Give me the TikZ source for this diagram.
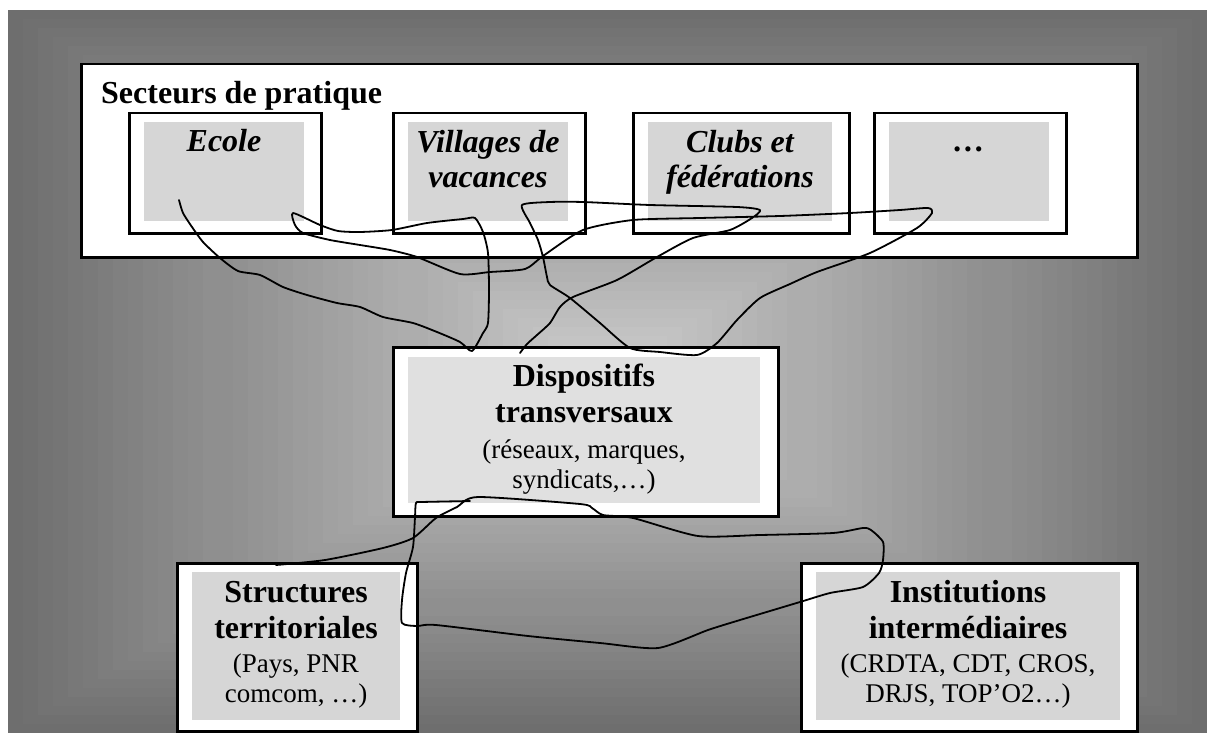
\documentclass[tikz,border=0pt]{standalone}
\usepackage{fontspec}
\setmainfont{Liberation Serif}
\begin{document}
\begin{tikzpicture}[x=1pt, y=-1pt,
    cadre/.style={draw=black, line width=2.5pt, fill=white, inner sep=0pt, anchor=north west},
    fond/.style={fill=black!16, inner sep=0pt, anchor=north west},
    titre/.style={font=\fontsize{32}{36}\selectfont\bfseries, align=center, anchor=base, inner sep=0pt},
    secteur/.style={font=\fontsize{32}{35}\selectfont\bfseries\itshape, align=center, anchor=base, inner sep=0pt},
    detail/.style={font=\fontsize{27}{30}\selectfont, align=center, anchor=base, inner sep=0pt},
    trait/.style={line width=1.8pt, line join=round, line cap=round}]

    % Fond en degrade
    \useasboundingbox (0,0) rectangle (1207,733);
    \foreach \i in {0,...,39} {
        \pgfmathsetmacro\t{\i/40}
        \pgfmathtruncatemacro\c{57-37*\t}
        \fill[black!\c] (8+600*\t, 10+362*\t) rectangle (1207-600*\t, 733-361*\t);
    }

    % Secteurs de pratique
    \node[cadre, minimum width=1056, minimum height=193] (secteurs) at (80,63) {};
    \node[titre, anchor=base west] (secteurs-txt) at (101,104) {Secteurs de pratique};
    \foreach \nom/\x/\w/\y/\txt in {ecole/128/192/152/Ecole, villages/392/192/187/{Villages de\\vacances},
        clubs/632/216/187/{Clubs et\\fédérations}, autres/873/192/152/…} {
        \node[cadre, minimum width=\w, minimum height=120] (\nom) at (\x,112) {};
        \node[fond, minimum width=\w-32, minimum height=99] (\nom-fond) at (\x+16,122) {};
        \node[secteur] (\nom-txt) at (\x+\w/2,\y) {\txt};
    }

    % Dispositifs transversaux
    \node[cadre, minimum width=385, minimum height=169] (dispositifs) at (392,346) {};
    \node[fond, fill=black!12, minimum width=352, minimum height=146] (dispositifs-fond) at (408,357) {};
    \node[titre] (dispositifs-txt) at (584,422) {Dispositifs\\transversaux};
    \node[detail] (dispositifs-det) at (584,488) {(réseaux, marques,\\syndicats,…)};

    % Structures et institutions
    \node[cadre, minimum width=240, minimum height=168] (structures) at (176,562) {};
    \node[fond, minimum width=208, minimum height=148] (structures-fond) at (192,572) {};
    \node[titre] (structures-txt) at (296,638) {Structures\\territoriales};
    \node[detail] (structures-det) at (296,702) {(Pays, PNR\\comcom, …)};

    \node[cadre, minimum width=336, minimum height=168] (institutions) at (800,562) {};
    \node[fond, minimum width=304, minimum height=148] (institutions-fond) at (816,572) {};
    \node[titre] (institutions-txt) at (968,638) {Institutions\\intermédiaires};
    \node[detail] (institutions-det) at (968,702) {(CRDTA, CDT, CROS,\\DRJS, TOP’O2…)};

    % Liens a main levee
    \coordinate (ecole-pt) at (179,200);
    \coordinate (disp-haut) at (520,353);
    \draw[trait] plot[smooth, tension=0.4] coordinates {(ecole-pt) (183,213) (192,227) (203,242)
        (220,258) (238,271) (260,275) (283,287) (307,295) (337,303) (360,307) (383,317) (413,323)
        (437,332) (460,342) (472,351) (483,333) (488,323) (489,290) (488,253) (483,232) (475,218)
        (463,219) (427,223) (392,230) (360,232) (338,231) (320,225) (293,213) (295,225) (303,233)
        (330,240) (360,245) (390,250) (417,257) (460,274) (490,272) (525,269) (543,256) (583,230)
        (633,220) (700,218) (780,216) (850,213) (900,210) (928,208) (932,213) (917,228) (870,253)
        (817,272) (790,284) (760,298) (737,320) (717,343) (697,355) (660,352) (630,348) (600,323)
        (570,298) (550,285) (547,277) (543,257) (538,240) (530,223) (522,205) (550,202) (583,202)
        (650,205) (737,207) (760,210) (752,218) (730,230) (693,238) (657,257) (617,280) (573,297)
        (560,307) (550,323) (537,335) (527,344) (disp-haut)};

    \coordinate (struct-pt) at (276,565);
    \coordinate (disp-bas) at (470,501);
    \draw[trait] plot[smooth, tension=0.4] coordinates {(struct-pt) (325,560) (383,548) (413,538)
        (436,518) (457,507) (478,497) (580,504) (592,508) (603,515) (633,518) (698,536) (760,535)
        (833,533) (863,528) (871,530) (883,542) (883,560) (879,573) (863,587) (830,593) (800,602)
        (740,620) (708,630) (658,648) (600,643) (528,636) (436,625) (417,626) (402,623) (402,600)
        (406,573) (413,547) (415,517) (416,503) (422,502) (disp-bas)};
\end{tikzpicture}
\end{document}
